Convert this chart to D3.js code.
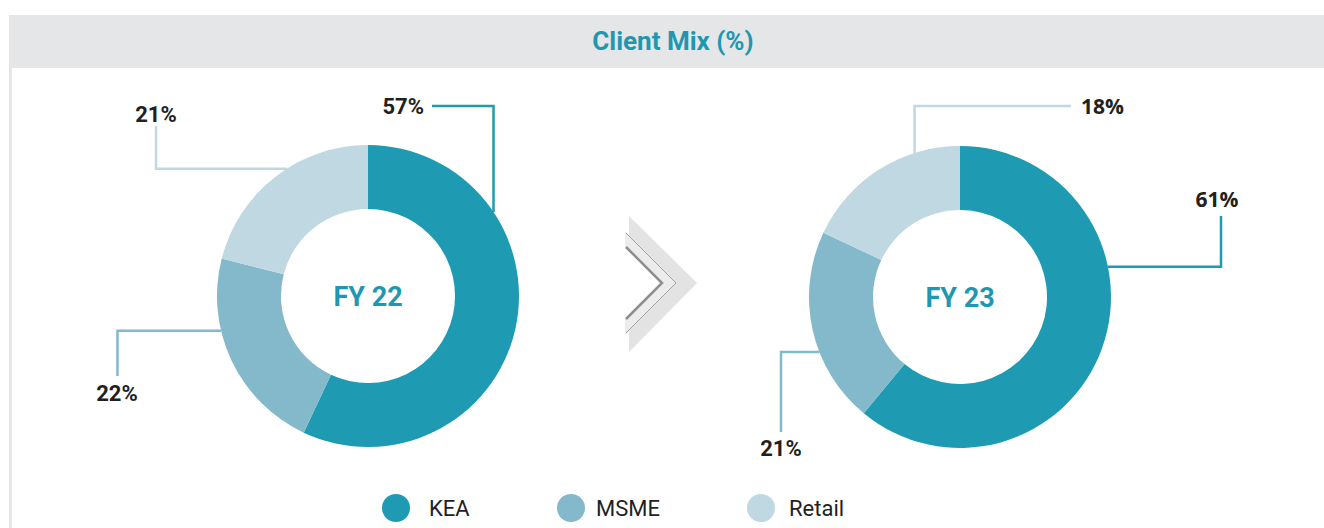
<!DOCTYPE html>
<html>
<head>
<meta charset="utf-8">
<script src="https://cdn.jsdelivr.net/npm/d3@7"></script>
<style>
  body { margin: 0; background: #fff; }
  svg { display: block; }
</style>
</head>
<body>
<div class="chart"></div>
<script>
// data
var segments = ["KEA", "MSME", "Retail"];
var years = ["FY 22", "FY 23"];
var fy22 = [57, 22, 21];
var fy23 = [61, 21, 18];

// Set Up canvas
var svgWidth = 1324;
var svgHeight = 528;

var colors = d3.scaleOrdinal()
  .domain(segments)
  .range(["#1e9bb2", "#83b9cb", "#bfd8e1"]);

var svg = d3.select(".chart")
  .append("svg")
  .attr("width", svgWidth)
  .attr("height", svgHeight);

// header bar + left rule
svg.append("rect")
  .attr("x", 9).attr("y", 15)
  .attr("width", svgWidth - 9).attr("height", 53)
  .attr("fill", "#e5e6e8");

svg.append("rect")
  .attr("x", 9).attr("y", 68)
  .attr("width", 3).attr("height", svgHeight - 68)
  .attr("fill", "#e5e6e8");

svg.append("text")
  .attr("x", 673)
  .attr("y", 50)
  .attr("text-anchor", "middle")
  .attr("font-family", "Roboto")
  .attr("font-weight", "bold")
  .attr("font-size", "26px")
  .attr("fill", "#1f97b0")
  .text("Client Mix (%)");

// donut setup
var outerR = 151;
var innerR = 87;

var pie = d3.pie().sort(null).value(d => d.value);
var arc = d3.arc().innerRadius(innerR).outerRadius(outerR);

// label placement: frac = where along the slice the leader starts,
// mode vh = go vertical first, hv = horizontal first, end is relative to centre
var donuts = [
  {
    year: years[0], values: fy22, cx: 368, cy: 296,
    labels: [
      { frac: 0.274, mode: "vh", end: [64, -190], lx: 56, ly: -182, anchor: "end", font: "Roboto" },
      { frac: 0.65, mode: "hv", end: [-250.5, 80], lx: -251, ly: 105, anchor: "middle", font: "Roboto" },
      { frac: 0.57, mode: "hv", end: [-212, -170], lx: -212, ly: -174, anchor: "middle", font: "Roboto" }
    ]
  },
  {
    year: years[1], values: fy23, cx: 960, cy: 297,
    labels: [
      { frac: 0.357, mode: "hv", end: [261, -81], lx: 257, ly: -90, anchor: "middle", font: "Open Sans" },
      { frac: 0.384, mode: "hv", end: [-179, 135], lx: -179, ly: 159, anchor: "middle", font: "Roboto" },
      { frac: 0.73, mode: "vh", end: [111, -191], lx: 121, ly: -183, anchor: "start", font: "Open Sans" }
    ]
  }
];

donuts.forEach(function(dn) {
  var data = segments.map((s, i) => ({ name: s, value: dn.values[i] }));
  var arcs = pie(data);

  var g = svg.append("g")
    .attr("transform", `translate(${dn.cx}, ${dn.cy})`);

  g.selectAll("path.slice")
    .data(arcs)
    .enter()
    .append("path")
    .attr("class", "slice")
    .attr("d", arc)
    .attr("fill", d => colors(d.data.name));

  // leader lines
  arcs.forEach(function(a, i) {
    var lab = dn.labels[i];
    var ang = a.startAngle + (a.endAngle - a.startAngle) * lab.frac;
    var ax = Math.sin(ang) * outerR;
    var ay = -Math.cos(ang) * outerR;
    var mid = lab.mode === "vh" ? [ax, lab.end[1]] : [lab.end[0], ay];

    g.append("path")
      .attr("d", d3.line()([[ax, ay], mid, lab.end]))
      .attr("fill", "none")
      .attr("stroke", colors(a.data.name))
      .attr("stroke-width", 2.5);

    g.append("text")
      .attr("x", lab.lx)
      .attr("y", lab.ly)
      .attr("text-anchor", lab.anchor)
      .attr("font-family", lab.font)
      .attr("font-weight", "bold")
      .attr("font-size", lab.font === "Roboto" ? "22px" : "21px")
      .attr("fill", "#231f20")
      .text(a.data.value + "%");
  });

  g.append("text")
    .attr("y", 10)
    .attr("text-anchor", "middle")
    .attr("font-family", "Roboto")
    .attr("font-weight", "bold")
    .attr("font-size", "27px")
    .attr("fill", "#1f97b0")
    .text(dn.year);
});

// chevron arrow between donuts
var arrow = svg.append("g");
arrow.append("polygon")
  .attr("points", "629,216 697,283 629,352")
  .attr("fill", "#e3e3e3");
arrow.append("polygon")
  .attr("points", "625,231 677,283 625,335 625,319 662,283 625,247")
  .attr("fill", "#ececec");
arrow.append("polygon")
  .attr("points", "625,247 662,283 625,319")
  .attr("fill", "#ffffff");
arrow.append("polyline")
  .attr("points", "626,247 662,283 626,319")
  .attr("fill", "none")
  .attr("stroke", "#8e8e8e")
  .attr("stroke-width", 2.5);
arrow.append("polyline")
  .attr("points", "626,233 676,283 626,333")
  .attr("fill", "none")
  .attr("stroke", "#a0a0a0")
  .attr("stroke-width", 1);

// legend
var legendX = [396, 571, 761];
var legendTextX = [429, 596, 789];
var legend = svg.selectAll("g.legend")
  .data(segments)
  .enter()
  .append("g")
  .attr("class", "legend");

legend.append("circle")
  .attr("cx", (d, i) => legendX[i])
  .attr("cy", 508)
  .attr("r", 14)
  .attr("fill", d => colors(d));

legend.append("text")
  .attr("x", (d, i) => legendTextX[i])
  .attr("y", 516)
  .attr("font-family", "Roboto")
  .attr("font-size", "22px")
  .attr("fill", "#231f20")
  .text(d => d);
</script>
</body>
</html>
